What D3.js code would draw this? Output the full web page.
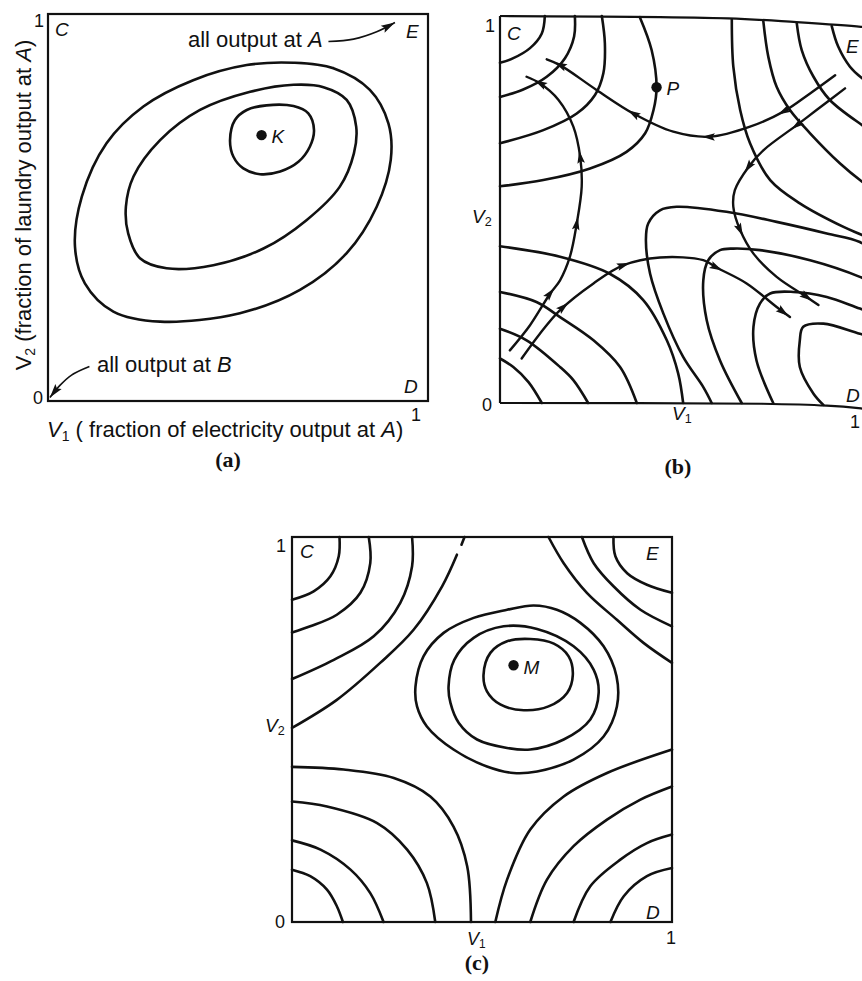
<!DOCTYPE html>
<html>
<head>
<meta charset="utf-8">
<script src="https://cdn.jsdelivr.net/npm/d3@7"></script>
<style>
  html, body { margin: 0; padding: 0; background: #fff; }
  svg { display: block; }
  text { font-family: "Liberation Sans", Arial, Helvetica, sans-serif; fill: #111; }
</style>
</head>
<body>
<svg id="fig" width="862" height="981"></svg>
<script>
// ---------------- data (V1, V2 in the unit square) ----------------

// panel (a): closed iso-curves around the optimum K
const contoursA = [
  [[0.479,0.674],[0.492,0.726],[0.523,0.752],[0.575,0.764],[0.646,0.762],[0.685,0.743],[0.700,0.700],[0.689,0.657],[0.659,0.618],[0.611,0.593],[0.558,0.586],[0.514,0.601],[0.488,0.631]],
  [[0.295,0.674],[0.400,0.752],[0.532,0.799],[0.646,0.817],[0.725,0.811],[0.786,0.778],[0.811,0.709],[0.805,0.640],[0.768,0.554],[0.681,0.468],[0.567,0.394],[0.435,0.351],[0.312,0.343],[0.242,0.369],[0.211,0.433],[0.205,0.502],[0.225,0.580]],
  [[0.646,0.874],[0.751,0.860],[0.847,0.804],[0.896,0.717],[0.902,0.623],[0.865,0.502],[0.786,0.382],[0.663,0.287],[0.505,0.227],[0.295,0.205],[0.172,0.231],[0.097,0.304],[0.071,0.399],[0.089,0.528],[0.154,0.666],[0.251,0.761],[0.382,0.829],[0.523,0.868]]
];
const pointK = [0.562, 0.687];
const pointerToE = [[0.738,0.929],[0.804,0.935],[0.865,0.954],[0.913,0.978]];
const pointerToB = [[0.109,0.089],[0.062,0.067],[0.032,0.041],[0.005,0.009]];

// panel (b): iso-curves and adjustment paths
const contoursB = [
  // around C
  [[0.118,1.0],[0.110,0.955],[0.079,0.917],[0.035,0.891],[0,0.879]],
  [[0.197,1.0],[0.195,0.947],[0.171,0.891],[0.123,0.843],[0.061,0.810],[0,0.791]],
  [[0.268,1.0],[0.276,0.929],[0.272,0.852],[0.250,0.796],[0.202,0.748],[0.114,0.705],[0,0.671]],
  [[0.368,0.997],[0.399,0.912],[0.412,0.816],[0.404,0.757],[0.382,0.697],[0.333,0.649],[0.237,0.606],[0.114,0.576],[0,0.560]],
  // around E
  [[0.873,0.974],[0.890,0.921],[0.921,0.869],[0.953,0.839],[1.0,0.809]],
  [[0.781,0.981],[0.794,0.912],[0.825,0.843],[0.868,0.783],[0.953,0.718],[1.0,0.688]],
  [[0.693,0.986],[0.706,0.895],[0.728,0.817],[0.763,0.757],[0.816,0.697],[0.895,0.619],[0.953,0.572],[1.0,0.541]],
  [[0.610,0.991],[0.614,0.869],[0.632,0.757],[0.658,0.671],[0.711,0.576],[0.789,0.516],[0.904,0.455],[0.953,0.434],[1.0,0.412]],
  // hooks opening toward D
  [[1.0,0.378],[0.947,0.416],[0.860,0.438],[0.728,0.468],[0.596,0.494],[0.465,0.507],[0.421,0.498],[0.390,0.464],[0.384,0.421],[0.395,0.334],[0.430,0.231],[0.482,0.119],[0.535,0.041],[0.557,0]],
  [[1.0,0.300],[0.947,0.326],[0.816,0.369],[0.684,0.395],[0.614,0.399],[0.579,0.395],[0.548,0.369],[0.535,0.317],[0.544,0.214],[0.579,0.110],[0.636,0]],
  [[1.0,0.227],[0.947,0.244],[0.860,0.274],[0.772,0.287],[0.711,0.283],[0.684,0.257],[0.667,0.197],[0.675,0.110],[0.719,0]],
  [[1.0,0.166],[0.947,0.179],[0.851,0.205],[0.798,0.197],[0.789,0.162],[0.789,0.093],[0.825,0.024],[0.851,-0.005]],
  // around the origin
  [[0,0.115],[0.035,0.093],[0.075,0.054],[0.110,0]],
  [[0,0.192],[0.070,0.162],[0.158,0.093],[0.193,0.059],[0.232,0]],
  [[0,0.287],[0.096,0.261],[0.158,0.222],[0.246,0.162],[0.316,0.093],[0.360,0]],
  [[0,0.405],[0.158,0.378],[0.289,0.334],[0.377,0.266],[0.439,0.162],[0.469,0.076],[0.482,0]]
];
const pathsB = [
  [[0.026,0.136],[0.079,0.201],[0.132,0.283],[0.158,0.317],[0.184,0.378],[0.202,0.464],[0.215,0.559],[0.211,0.636],[0.193,0.714],[0.154,0.783],[0.105,0.826],[0.070,0.843]],
  [[0.057,0.115],[0.105,0.179],[0.158,0.240],[0.246,0.309],[0.325,0.356],[0.421,0.376],[0.535,0.369],[0.570,0.350],[0.649,0.309],[0.728,0.248],[0.763,0.222]],
  [[0.882,0.847],[0.816,0.800],[0.746,0.753],[0.658,0.714],[0.553,0.688],[0.456,0.701],[0.351,0.748],[0.254,0.809],[0.158,0.873],[0.123,0.888]],
  [[0.908,0.813],[0.833,0.757],[0.781,0.718],[0.693,0.653],[0.654,0.610],[0.618,0.550],[0.614,0.507],[0.632,0.447],[0.667,0.386],[0.728,0.326],[0.807,0.274],[0.838,0.253]]
];
const pathArrowsB = [
  [[0.132,0.283],[0.202,0.464],[0.211,0.636],[0.105,0.826]],
  [[0.167,0.248],[0.325,0.356],[0.570,0.350],[0.745,0.236]],
  [[0.746,0.753],[0.548,0.688],[0.351,0.748],[0.158,0.873]],
  [[0.781,0.718],[0.654,0.610],[0.632,0.447],[0.807,0.274]]
];
const pointP = [0.412, 0.816];
const frameTopB = [[0,1],[0.6,0.994],[0.78,0.984],[0.95,0.972],[1,0.966]];
const frameBottomB = [[0,0],[0.69,-0.002],[0.86,-0.007],[0.95,-0.014],[1,-0.02]];

// panel (c): corner families and rings around M
const contoursC = [
  // around C
  [[0.125,1.0],[0.123,0.950],[0.101,0.898],[0.057,0.859],[0,0.837]],
  [[0.202,1.0],[0.206,0.932],[0.180,0.855],[0.118,0.798],[0.048,0.768],[0,0.752]],
  [[0.316,1.0],[0.316,0.924],[0.285,0.829],[0.215,0.742],[0.110,0.681],[0,0.631]],
  [[0.454,1.0],[0.446,0.980]],
  [[0.434,0.954],[0.395,0.872],[0.320,0.759],[0.232,0.673],[0.118,0.577],[0,0.504]],
  // around the origin
  [[0,0.136],[0.048,0.119],[0.092,0.084],[0.118,0.041],[0.134,0]],
  [[0,0.212],[0.075,0.188],[0.154,0.136],[0.206,0.075],[0.241,0]],
  [[0,0.313],[0.092,0.300],[0.224,0.257],[0.303,0.188],[0.355,0.101],[0.377,0]],
  [[0,0.403],[0.136,0.396],[0.268,0.374],[0.364,0.326],[0.425,0.248],[0.461,0.145],[0.471,0]],
  // around D
  [[0.535,0],[0.566,0.110],[0.627,0.240],[0.715,0.326],[0.829,0.387],[1.0,0.448]],
  [[0.627,0],[0.671,0.110],[0.741,0.197],[0.829,0.266],[0.917,0.318],[1.0,0.352]],
  [[0.741,0],[0.785,0.093],[0.864,0.162],[0.934,0.205],[1.0,0.227]],
  [[0.838,0],[0.873,0.067],[0.934,0.119],[1.0,0.140]],
  // around E
  [[0.846,1.0],[0.851,0.950],[0.882,0.906],[0.934,0.876],[1.0,0.855]],
  [[0.763,1.0],[0.794,0.932],[0.846,0.872],[0.917,0.811],[1.0,0.768]],
  [[0.675,1.0],[0.715,0.932],[0.776,0.855],[0.855,0.785],[0.925,0.725],[1.0,0.673]]
];
const ringsC = [
  [[0.504,0.642],[0.522,0.699],[0.566,0.729],[0.627,0.735],[0.689,0.723],[0.728,0.690],[0.739,0.642],[0.724,0.595],[0.675,0.560],[0.610,0.550],[0.548,0.565],[0.513,0.599]],
  [[0.412,0.612],[0.427,0.681],[0.478,0.738],[0.557,0.768],[0.645,0.761],[0.741,0.716],[0.794,0.655],[0.807,0.595],[0.785,0.526],[0.715,0.474],[0.627,0.448],[0.566,0.452],[0.487,0.474],[0.439,0.517],[0.417,0.569]],
  [[0.325,0.612],[0.346,0.690],[0.399,0.751],[0.478,0.790],[0.566,0.811],[0.636,0.822],[0.697,0.811],[0.759,0.777],[0.820,0.716],[0.854,0.638],[0.855,0.560],[0.820,0.482],[0.741,0.422],[0.645,0.391],[0.583,0.387],[0.513,0.404],[0.425,0.448],[0.355,0.508],[0.329,0.560]]
];
const pointM = [0.583, 0.667];

const tickLabels = ["0", "1"];
const panelTags = ["(a)", "(b)", "(c)"];

// ---------------- layout ----------------
const svg = d3.select("#fig");
const INK = "#111";
const TAG_FONT = "'Liberation Serif', 'Times New Roman', serif";

const panels = {
  a: { x: d3.scaleLinear().domain([0,1]).range([48,428]), y: d3.scaleLinear().domain([0,1]).range([401,14]) },
  b: { x: d3.scaleLinear().domain([0,1]).range([500,880]), y: d3.scaleLinear().domain([0,1]).range([403,16]) },
  c: { x: d3.scaleLinear().domain([0,1]).range([292,672]), y: d3.scaleLinear().domain([0,1]).range([922,537]) }
};

function lineGen(p, closed) {
  return d3.line()
    .x(d => p.x(d[0])).y(d => p.y(d[1]))
    .curve(closed ? d3.curveCatmullRomClosed.alpha(0.5) : d3.curveCatmullRom.alpha(0.5));
}

function drawCurves(g, p, sets, closed, width) {
  return g.selectAll(null).data(sets).join("path")
    .attr("d", lineGen(p, closed))
    .attr("fill", "none").attr("stroke", INK)
    .attr("stroke-width", width).attr("stroke-linejoin", "round").attr("stroke-linecap", "round");
}

// arrowhead placed on a drawn path, nearest to a given screen point
function arrowOn(g, node, px, py, len, hw, atEnd) {
  const L = node.getTotalLength();
  let best = 0, bd = Infinity;
  if (atEnd) { best = L; }
  else {
    for (let s = 0; s <= L; s += 0.5) {
      const q = node.getPointAtLength(s);
      const d = (q.x - px) ** 2 + (q.y - py) ** 2;
      if (d < bd) { bd = d; best = s; }
    }
    best = Math.min(L, best + len / 2);
  }
  const a = node.getPointAtLength(Math.max(0, best - 4));
  const b = node.getPointAtLength(Math.min(L, best));
  const ang = Math.atan2(b.y - a.y, b.x - a.x) * 180 / Math.PI;
  const tip = node.getPointAtLength(best);
  g.append("path")
    .attr("d", `M0,0L${-len},${hw}L${-len * 0.82},0L${-len},${-hw}Z`)
    .attr("fill", INK)
    .attr("transform", `translate(${tip.x},${tip.y}) rotate(${ang})`);
}

function frameRect(g, p) {
  g.append("rect")
    .attr("x", p.x(0)).attr("y", p.y(1))
    .attr("width", p.x(1) - p.x(0)).attr("height", p.y(0) - p.y(1))
    .attr("fill", "none").attr("stroke", INK).attr("stroke-width", 2.2);
}

function label(g, x, y, txt, opts = {}) {
  const t = g.append("text").attr("x", x).attr("y", y).text(txt)
    .attr("font-size", opts.size || 19)
    .attr("text-anchor", opts.anchor || "start");
  if (opts.italic) t.attr("font-style", "italic");
  if (opts.family) t.style("font-family", opts.family);
  if (opts.weight) t.attr("font-weight", opts.weight);
  return t;
}

// V with a numeric subscript
function vLabel(g, x, y, sub, size) {
  const t = g.append("text").attr("x", x).attr("y", y).attr("font-size", size);
  t.append("tspan").attr("font-style", "italic").text("V");
  t.append("tspan").attr("font-size", size * 0.66).attr("dy", size * 0.16).text(sub);
  return t;
}

function dot(g, p, pt) {
  g.append("circle").attr("cx", p.x(pt[0])).attr("cy", p.y(pt[1])).attr("r", 5.2).attr("fill", INK);
}

// ---------------- panel (a) ----------------
{
  const p = panels.a, g = svg.append("g");
  frameRect(g, p);
  drawCurves(g, p, contoursA, true, 2.6);
  dot(g, p, pointK);
  label(g, p.x(pointK[0]) + 10, p.y(pointK[1]) + 8, "K", { italic: true });

  const arrows = g.append("g");
  [pointerToE, pointerToB].forEach(pts => {
    const path = arrows.append("path").attr("d", lineGen(p, false)(pts))
      .attr("fill", "none").attr("stroke", INK).attr("stroke-width", 1.6);
    arrowOn(arrows, path.node(), 0, 0, 14, 4, true);
  });

  const tA = g.append("text").attr("x", 188).attr("y", 47).attr("font-size", 22);
  tA.append("tspan").text("all output at ");
  tA.append("tspan").attr("font-style", "italic").text("A");
  const tB = g.append("text").attr("x", 97).attr("y", 372).attr("font-size", 22);
  tB.append("tspan").text("all output at ");
  tB.append("tspan").attr("font-style", "italic").text("B");

  label(g, 55, 36, "C", { italic: true });
  label(g, 406, 38, "E", { italic: true });
  label(g, 404, 393, "D", { italic: true });
  label(g, 39, 27, tickLabels[1], { size: 18, anchor: "middle" });
  label(g, 38, 404, tickLabels[0], { size: 18, anchor: "middle" });
  label(g, 416, 421, tickLabels[1], { size: 18, anchor: "middle" });

  // axis titles
  const xt = g.append("text").attr("x", 47).attr("y", 437).attr("font-size", 22);
  xt.append("tspan").attr("font-style", "italic").text("V");
  xt.append("tspan").attr("font-size", 14).attr("dy", 4).text("1");
  xt.append("tspan").attr("dy", -4).text(" ( fraction of electricity output at ");
  xt.append("tspan").attr("font-style", "italic").text("A");
  xt.append("tspan").text(")");

  const yt = g.append("text").attr("transform", "translate(31,205) rotate(-90)")
    .attr("text-anchor", "middle").attr("font-size", 22);
  yt.append("tspan").text("V");
  yt.append("tspan").attr("font-size", 14).attr("dy", 4).text("2");
  yt.append("tspan").attr("dy", -4).text(" (fraction of laundry output at ");
  yt.append("tspan").attr("font-style", "italic").text("A");
  yt.append("tspan").text(")");

  label(g, 228, 467, panelTags[0], { size: 22, anchor: "middle", family: TAG_FONT, weight: "bold" });
}

// ---------------- panel (b) ----------------
{
  const p = panels.b, g = svg.append("g");
  const edge = d3.line().x(d => p.x(d[0])).y(d => p.y(d[1])).curve(d3.curveCatmullRom.alpha(0.5));
  g.append("path").attr("d", edge(frameTopB)).attr("fill", "none").attr("stroke", INK).attr("stroke-width", 2.2);
  g.append("path").attr("d", edge(frameBottomB)).attr("fill", "none").attr("stroke", INK).attr("stroke-width", 2.2);
  g.append("line").attr("x1", p.x(0)).attr("x2", p.x(0)).attr("y1", p.y(0)).attr("y2", p.y(1))
    .attr("stroke", INK).attr("stroke-width", 2.2);

  drawCurves(g, p, contoursB, false, 2.6);
  const tr = drawCurves(g, p, pathsB, false, 2.4);
  tr.each(function (d, i) {
    pathArrowsB[i].forEach(a => arrowOn(g, this, p.x(a[0]), p.y(a[1]), 13, 3.8, false));
  });

  dot(g, p, pointP);
  label(g, p.x(pointP[0]) + 10, p.y(pointP[1]) + 8, "P", { italic: true });
  label(g, 507, 40, "C", { italic: true });
  label(g, 846, 53, "E", { italic: true });
  label(g, 846, 402, "D", { italic: true });
  label(g, 490, 32, tickLabels[1], { size: 18, anchor: "middle" });
  label(g, 487, 411, tickLabels[0], { size: 18, anchor: "middle" });
  label(g, 850, 428, tickLabels[1], { size: 18, anchor: "start" });
  vLabel(g, 472, 223, "2", 19);
  vLabel(g, 672, 420, "1", 19);
  label(g, 678, 474, panelTags[1], { size: 22, anchor: "middle", family: TAG_FONT, weight: "bold" });
}

// ---------------- panel (c) ----------------
{
  const p = panels.c, g = svg.append("g");
  frameRect(g, p);
  drawCurves(g, p, contoursC, false, 2.6);
  drawCurves(g, p, ringsC, true, 2.6);
  dot(g, p, pointM);
  label(g, p.x(pointM[0]) + 10, p.y(pointM[1]) + 9, "M", { italic: true });
  label(g, 300, 558, "C", { italic: true });
  label(g, 646, 560, "E", { italic: true });
  label(g, 646, 919, "D", { italic: true });
  label(g, 281, 552, tickLabels[1], { size: 18, anchor: "middle" });
  label(g, 280, 928, tickLabels[0], { size: 18, anchor: "middle" });
  label(g, 671, 944, tickLabels[1], { size: 18, anchor: "middle" });
  vLabel(g, 265, 732, "2", 19);
  vLabel(g, 467, 945, "1", 18);
  label(g, 477, 970, panelTags[2], { size: 22, anchor: "middle", family: TAG_FONT, weight: "bold" });
}
</script>
</body>
</html>
